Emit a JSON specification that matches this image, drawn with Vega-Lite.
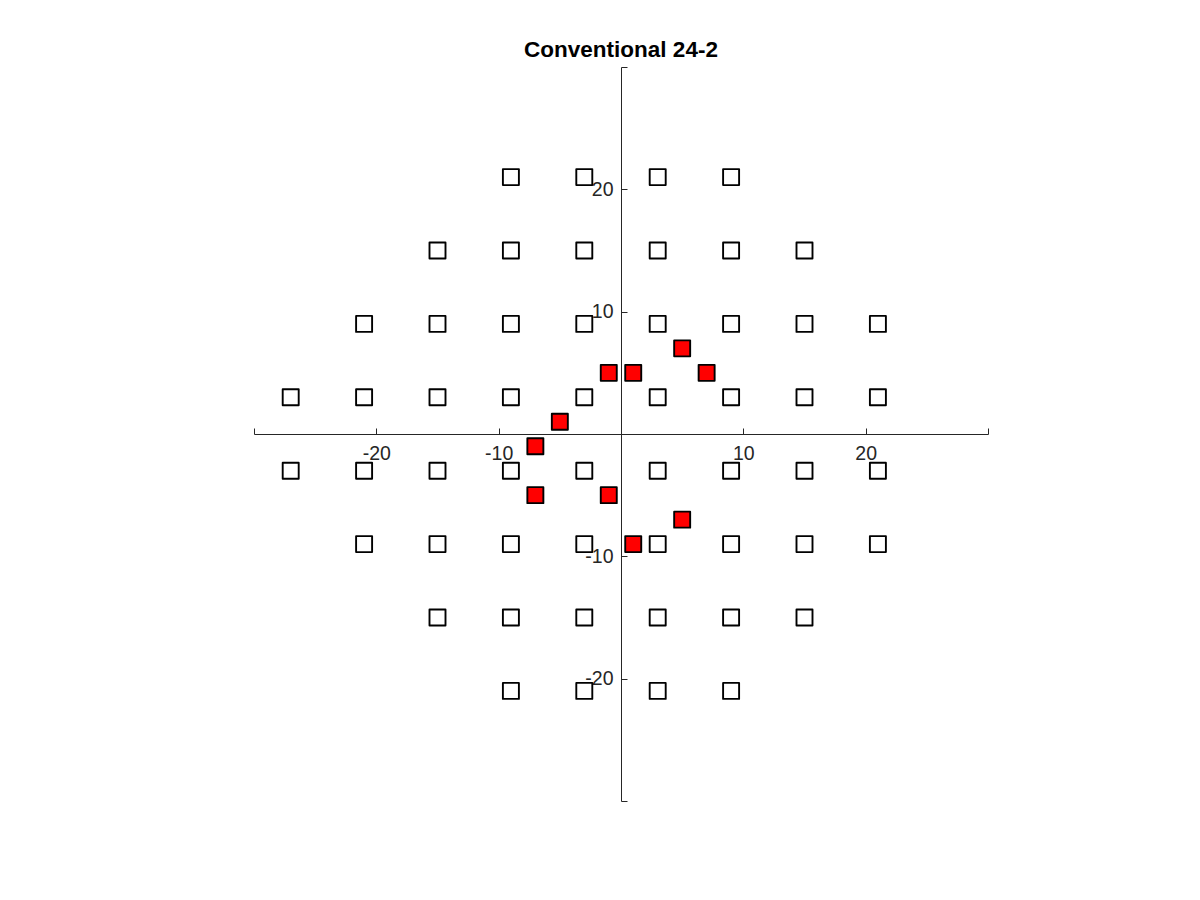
{
  "$schema": "https://vega.github.io/schema/vega-lite/v6.json",
  "width": 734,
  "height": 734,
  "autosize": {"type": "none"},
  "padding": {"left": 254, "top": 67, "right": 212, "bottom": 99},
  "background": "white",
  "title": {"text": "Conventional 24-2", "font": "Liberation Sans", "fontSize": 22.5, "fontWeight": "bold", "color": "#000000", "anchor": "middle", "offset": -4},
  "config": {"view": {"stroke": null}},
  "data": {"values": [
    {"x": -9, "y": 21, "t": "n"}, {"x": -3, "y": 21, "t": "n"}, {"x": 3, "y": 21, "t": "n"}, {"x": 9, "y": 21, "t": "n"},
    {"x": -15, "y": 15, "t": "n"}, {"x": -9, "y": 15, "t": "n"}, {"x": -3, "y": 15, "t": "n"}, {"x": 3, "y": 15, "t": "n"}, {"x": 9, "y": 15, "t": "n"}, {"x": 15, "y": 15, "t": "n"},
    {"x": -21, "y": 9, "t": "n"}, {"x": -15, "y": 9, "t": "n"}, {"x": -9, "y": 9, "t": "n"}, {"x": -3, "y": 9, "t": "n"}, {"x": 3, "y": 9, "t": "n"}, {"x": 9, "y": 9, "t": "n"}, {"x": 15, "y": 9, "t": "n"}, {"x": 21, "y": 9, "t": "n"},
    {"x": -27, "y": 3, "t": "n"}, {"x": -21, "y": 3, "t": "n"}, {"x": -15, "y": 3, "t": "n"}, {"x": -9, "y": 3, "t": "n"}, {"x": -3, "y": 3, "t": "n"}, {"x": 3, "y": 3, "t": "n"}, {"x": 9, "y": 3, "t": "n"}, {"x": 15, "y": 3, "t": "n"}, {"x": 21, "y": 3, "t": "n"},
    {"x": -27, "y": -3, "t": "n"}, {"x": -21, "y": -3, "t": "n"}, {"x": -15, "y": -3, "t": "n"}, {"x": -9, "y": -3, "t": "n"}, {"x": -3, "y": -3, "t": "n"}, {"x": 3, "y": -3, "t": "n"}, {"x": 9, "y": -3, "t": "n"}, {"x": 15, "y": -3, "t": "n"}, {"x": 21, "y": -3, "t": "n"},
    {"x": -21, "y": -9, "t": "n"}, {"x": -15, "y": -9, "t": "n"}, {"x": -9, "y": -9, "t": "n"}, {"x": -3, "y": -9, "t": "n"}, {"x": 3, "y": -9, "t": "n"}, {"x": 9, "y": -9, "t": "n"}, {"x": 15, "y": -9, "t": "n"}, {"x": 21, "y": -9, "t": "n"},
    {"x": -15, "y": -15, "t": "n"}, {"x": -9, "y": -15, "t": "n"}, {"x": -3, "y": -15, "t": "n"}, {"x": 3, "y": -15, "t": "n"}, {"x": 9, "y": -15, "t": "n"}, {"x": 15, "y": -15, "t": "n"},
    {"x": -9, "y": -21, "t": "n"}, {"x": -3, "y": -21, "t": "n"}, {"x": 3, "y": -21, "t": "n"}, {"x": 9, "y": -21, "t": "n"},
    {"x": -1, "y": 5, "t": "d"}, {"x": 1, "y": 5, "t": "d"}, {"x": 5, "y": 7, "t": "d"}, {"x": 7, "y": 5, "t": "d"},
    {"x": -5, "y": 1, "t": "d"}, {"x": -7, "y": -1, "t": "d"}, {"x": -7, "y": -5, "t": "d"}, {"x": -1, "y": -5, "t": "d"},
    {"x": 5, "y": -7, "t": "d"}, {"x": 1, "y": -9, "t": "d"}
  ]},
  "mark": {"type": "point", "shape": "square", "filled": true, "size": 256, "stroke": "#000000", "strokeWidth": 1.9, "strokeJoin": "round", "opacity": 1},
  "encoding": {
    "x": {"field": "x", "type": "quantitative", "scale": {"domain": [-30, 30], "nice": false, "zero": false},
      "axis": {"orient": "bottom", "offset": -367, "title": null, "grid": false, "values": [-30, -20, -10, 0, 10, 20, 30],
        "labelExpr": "datum.value == 0 || abs(datum.value) == 30 ? '' : '' + datum.value",
        "tickSize": -6, "tickColor": "#262626", "domainColor": "#262626", "domainWidth": 1, "tickWidth": 1,
        "labelFont": "Liberation Sans", "labelFontSize": 19.5, "labelColor": "#262626", "labelPadding": 16, "labelOverlap": false, "labelFlush": false}},
    "y": {"field": "y", "type": "quantitative", "scale": {"domain": [-30, 30], "nice": false, "zero": false},
      "axis": {"orient": "left", "offset": -367, "title": null, "grid": false, "values": [-30, -20, -10, 0, 10, 20, 30],
        "labelExpr": "datum.value == 0 || abs(datum.value) == 30 ? '' : '' + datum.value",
        "tickSize": -6, "tickColor": "#262626", "domainColor": "#262626", "domainWidth": 1, "tickWidth": 1,
        "labelFont": "Liberation Sans", "labelFontSize": 19.5, "labelColor": "#262626", "labelPadding": 14, "labelOverlap": false, "labelFlush": false}},
    "fill": {"field": "t", "type": "nominal", "scale": {"domain": ["n", "d"], "range": ["#ffffff", "#ff0000"]}, "legend": null},
    "order": {"field": "t", "type": "nominal", "sort": "descending"}
  }
}
